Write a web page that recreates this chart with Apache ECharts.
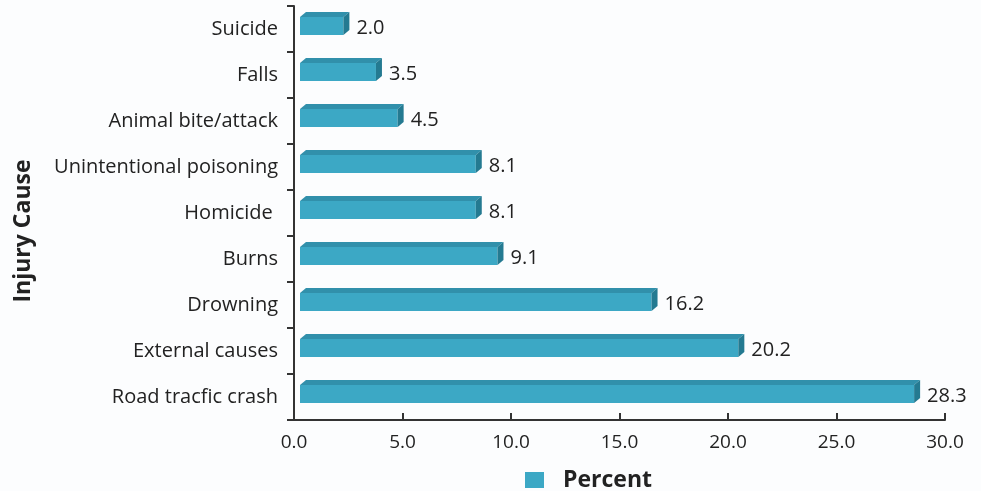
<!DOCTYPE html>
<html><head><meta charset="utf-8">
<script src="https://cdn.jsdelivr.net/npm/echarts@6/dist/echarts.min.js"></script>
<style>html,body{margin:0;padding:0;background:#fcfdfe;}#c{width:981px;height:491px;}</style>
</head><body><div id="c"></div>
<script>
const categories = ['Road tracfic crash','External causes','Drowning','Burns','Homicide ','Unintentional poisoning','Animal bite/attack','Falls','Suicide'];
const percentValues = [28.3, 20.2, 16.2, 9.1, 8.1, 8.1, 4.5, 3.5, 2.0];
const xTicks = [0, 5, 10, 15, 20, 25, 30];

const FRONT = '#3ca8c5', TOP = '#3190ab', SIDE = '#247a91';
const chart = echarts.init(document.getElementById('c'));
const data = percentValues.map((v, i) => [v, i]);
chart.setOption({
  backgroundColor: '#fcfdfe',
  animation: false,
  grid: { left: 294, right: 36, top: 6, bottom: 71 },
  legend: {
    data: [{ name: 'Percent', icon: 'rect' }],
    left: 525, top: 467, padding: 0, itemWidth: 19, itemHeight: 16, itemGap: 18,
    textStyle: { fontFamily: 'Open Sans', fontWeight: 'bold', fontSize: 23, lineHeight: 26, color: '#222', padding: [0, 0, 0, 14] }
  },
  graphic: [{
    type: 'text', x: 23, y: 231, rotation: Math.PI / 2,
    style: { text: 'Injury Cause', textAlign: 'center', textVerticalAlign: 'middle', fontFamily: 'Open Sans', fontWeight: 'bold', fontSize: 23, fill: '#222' }
  }],
  xAxis: {
    type: 'value', min: xTicks[0], max: xTicks[xTicks.length - 1], interval: 5,
    axisLine: { show: true, lineStyle: { color: '#333', width: 2 } },
    axisTick: { show: true, inside: true, length: 7, lineStyle: { color: '#333', width: 2 } },
    splitLine: { show: false },
    axisLabel: { formatter: v => v.toFixed(1), fontFamily: 'Open Sans', fontSize: 19, color: '#222', margin: 13 }
  },
  yAxis: {
    type: 'category', data: categories,
    axisLine: { show: true, lineStyle: { color: '#333', width: 2 } },
    axisTick: { show: true, length: 7, lineStyle: { color: '#333', width: 2 } },
    axisLabel: { fontFamily: 'Open Sans', fontSize: 20, color: '#222', margin: 16 }
  },
  series: [{
    name: 'Percent', type: 'custom',
    itemStyle: { color: FRONT },
    encode: { x: 0, y: 1 },
    data: data,
    renderItem: function (params, api) {
      const v = api.value(0), idx = api.value(1);
      const p0 = api.coord([0, idx]), p1 = api.coord([v, idx]);
      const c = p0[1];
      const X0 = p0[0] + 6, X1 = p1[0] + 6, d = 6, dy = 5;
      const yt = c - 12, yb = c + 6;
      return { type: 'group', children: [
        { type: 'rect', shape: { x: X0, y: yt, width: X1 - X0, height: yb - yt }, style: { fill: FRONT } },
        { type: 'polygon', shape: { points: [[X0, yt], [X0 + d, yt - dy], [X1 + d, yt - dy], [X1, yt]] }, style: { fill: TOP } },
        { type: 'polygon', shape: { points: [[X1, yt], [X1 + d, yt - dy], [X1 + d, yb - dy], [X1, yb]] }, style: { fill: SIDE } },
        { type: 'text', style: { text: v.toFixed(1), x: X1 + d + 7, y: c - 1, textAlign: 'left', textVerticalAlign: 'middle', fontFamily: 'Open Sans', fontSize: 20, fill: '#222' } }
      ]};
    }
  }]
});
</script></body></html>
